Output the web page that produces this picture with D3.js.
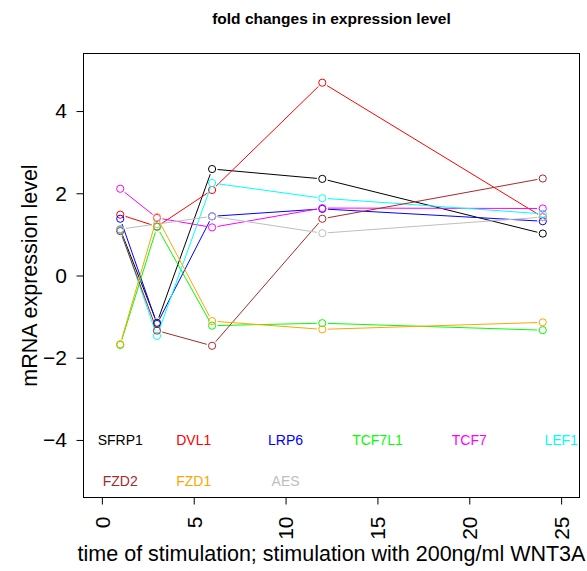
<!DOCTYPE html>
<html>
<head>
<meta charset="utf-8">
<script src="https://cdn.jsdelivr.net/npm/d3@7"></script>
<style>
  html, body { margin: 0; padding: 0; background: #fff; }
  svg { display: block; }
  text { font-family: "Liberation Sans", Arial, Helvetica, sans-serif; }
</style>
</head>
<body>
<svg id="chart" width="587" height="571"></svg>
<script>
// ---- data ----
const times = [1, 3, 6, 12, 24];
const genes = ["SFRP1", "DVL1", "LRP6", "TCF7L1", "TCF7", "LEF1", "FZD2", "FZD1", "AES"];
const colors = ["#000000", "#FF0000", "#0000FF", "#00FF00", "#FF00FF", "#00FFFF", "#A52A2A", "#FFA500", "#BEBEBE"];
const SFRP1  = [1.12, -1.15, 2.59, 2.35, 1.02];
const DVL1   = [1.48, 1.19, 2.08, 4.69, 1.42];
const LRP6   = [1.38, -1.18, 1.44, 1.62, 1.32];
const TCF7L1 = [-1.69, 1.18, -1.22, -1.16, -1.33];
const TCF7   = [2.11, 1.40, 1.17, 1.64, 1.63];
const LEF1   = [1.11, -1.47, 2.25, 1.88, 1.50];
const FZD2   = [1.08, -1.34, -1.71, 1.38, 2.36];
const FZD1   = [-1.67, 1.42, -1.11, -1.31, -1.14];
const AES    = [1.13, 1.25, 1.44, 1.03, 1.42];
const seriesValues = [SFRP1, DVL1, LRP6, TCF7L1, TCF7, LEF1, FZD2, FZD1, AES];
const xTicks = [0, 5, 10, 15, 20, 25];
const yTicks = [-4, -2, 0, 2, 4];
const labelX = [1, 5, 10, 15, 20, 25, 1, 5, 10];
const labelY = [-4, -4, -4, -4, -4, -4, -5, -5, -5];

// ---- layout ----
const svg = d3.select("#chart");
const pLeft = 83.5, pRight = 579.5, pTop = 53.5, pBottom = 497.5;
const x = d3.scaleLinear().domain([-1, 26]).range([pLeft, pRight]);
const y = d3.scaleLinear().domain([-5.4, 5.4]).range([pBottom, pTop]);

// title
svg.append("text").attr("x", (pLeft + pRight) / 2).attr("y", 23.5)
  .attr("text-anchor", "middle").attr("font-size", 15.5).attr("font-weight", "bold")
  .text("fold changes in expression level");

// series: lines with gaps (type = "b") and open circles
const r = 3.6, gap = 5.5;
seriesValues.forEach((vals, i) => {
  const g = svg.append("g");
  for (let k = 0; k < times.length - 1; k++) {
    const x1 = x(times[k]), y1 = y(vals[k]), x2 = x(times[k + 1]), y2 = y(vals[k + 1]);
    const dx = x2 - x1, dy = y2 - y1, len = Math.hypot(dx, dy);
    if (len <= 2 * gap) continue;
    const ux = dx / len, uy = dy / len;
    g.append("line")
      .attr("x1", x1 + ux * gap).attr("y1", y1 + uy * gap)
      .attr("x2", x2 - ux * gap).attr("y2", y2 - uy * gap)
      .attr("stroke", colors[i]).attr("stroke-width", 1);
  }
  g.selectAll("circle").data(vals).enter().append("circle")
    .attr("cx", (d, k) => x(times[k])).attr("cy", d => y(d)).attr("r", r)
    .attr("fill", "none").attr("stroke", colors[i]).attr("stroke-width", 1);
});

// labels inside plot
svg.append("g").selectAll("text").data(genes).enter().append("text")
  .attr("x", (d, i) => x(labelX[i])).attr("y", (d, i) => y(labelY[i]))
  .attr("dy", "0.36em").attr("text-anchor", "middle").attr("font-size", 14)
  .attr("fill", (d, i) => colors[i]).text(d => d);

// box
svg.append("rect").attr("x", pLeft).attr("y", pTop)
  .attr("width", pRight - pLeft).attr("height", pBottom - pTop)
  .attr("fill", "none").attr("stroke", "#000").attr("stroke-width", 1);

// y axis
const yAxis = d3.axisLeft(y).tickValues(yTicks).tickSize(7).tickPadding(9.5)
  .tickFormat(d => d < 0 ? "\u2212" + Math.abs(d) : d);
const yg = svg.append("g").attr("transform", `translate(${pLeft},0)`).call(yAxis);
yg.select(".domain").attr("d", `M-0,${y(-4)}H0V${y(4)}H-0`);
yg.selectAll("text").attr("font-size", 21).attr("font-family", "Liberation Sans, Arial, sans-serif").attr("fill", "#000");

// x axis
const xAxis = d3.axisBottom(x).tickValues(xTicks).tickSize(7).tickFormat(d => d);
const xg = svg.append("g").attr("transform", `translate(0,${pBottom})`).call(xAxis);
xg.select(".domain").attr("d", `M${x(0)},0V0H${x(25)}V0`);
xg.selectAll("text")
  .attr("font-size", 21).attr("font-family", "Liberation Sans, Arial, sans-serif").attr("fill", "#000")
  .attr("transform", "rotate(-90)").attr("text-anchor", "end")
  .attr("x", -19).attr("y", 0).attr("dy", "0.35em");

// axis titles
svg.append("text").attr("x", (pLeft + pRight) / 2).attr("y", 561)
  .attr("text-anchor", "middle").attr("font-size", 21.5)
  .text("time of stimulation; stimulation with 200ng/ml WNT3A");
svg.append("text")
  .attr("transform", `translate(37,${(pTop + pBottom) / 2}) rotate(-90)`)
  .attr("text-anchor", "middle").attr("font-size", 21.5)
  .text("mRNA expression level");
</script>
</body>
</html>
